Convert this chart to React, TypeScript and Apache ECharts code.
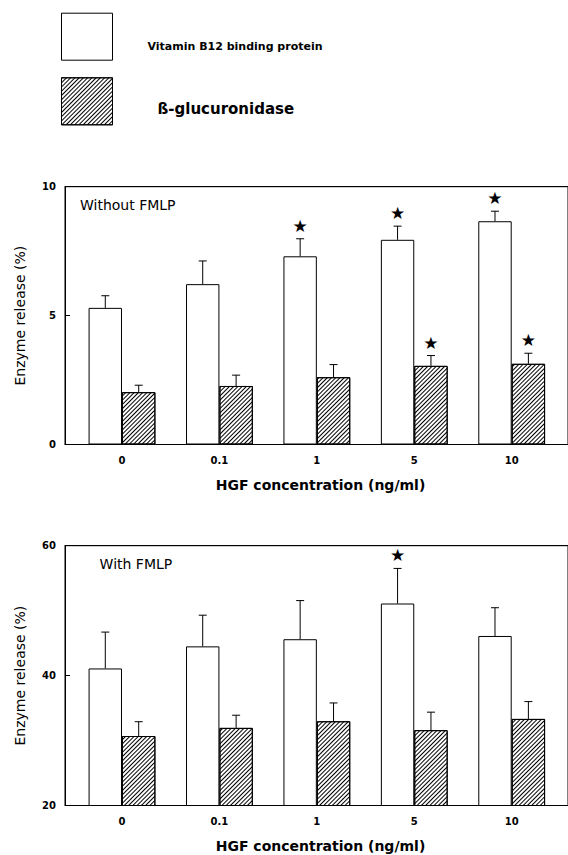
import React, { useEffect, useRef } from "react";
import * as echarts from "echarts";

// ---- data ----
const categories = ["0", "0.1", "1", "5", "10"];
const seriesNames = ["Vitamin B12 binding protein", "ß-glucuronidase"];

// Without FMLP
const withoutB12 = [5.3, 6.22, 7.3, 7.94, 8.66];
const withoutB12Err = [0.47, 0.9, 0.68, 0.53, 0.39];
const withoutB12Star = [0, 0, 1, 1, 1];
const withoutGluc = [2.03, 2.27, 2.61, 3.05, 3.13];
const withoutGlucErr = [0.27, 0.42, 0.49, 0.4, 0.41];
const withoutGlucStar = [0, 0, 0, 1, 1];

// With FMLP
const withB12 = [41.1, 44.5, 45.6, 51.1, 46.1];
const withB12Err = [5.6, 4.8, 5.95, 5.4, 4.35];
const withB12Star = [0, 0, 0, 1, 0];
const withGluc = [30.7, 31.95, 32.97, 31.6, 33.33];
const withGlucErr = [2.2, 1.95, 2.82, 2.77, 2.67];
const withGlucStar = [0, 0, 0, 0, 0];

const topTicks = [0, 5, 10];
const bottomTicks = [20, 40, 60];

// ---- style constants ----
const FONT = "DejaVu Sans";
const BAR_W = 33.4;
const X_MIN = -0.585;
const X_MAX = 4.578;

const hatch = {
  symbol: "rect",
  symbolSize: 1,
  color: "#000",
  dashArrayX: [1, 0],
  dashArrayY: [1, 1.1],
  rotation: -Math.PI / 4,
};

function barSeries(name: string, xi: number, yi: number, values: number[], hatched: boolean) {
  return {
    type: "bar",
    name,
    xAxisIndex: xi,
    yAxisIndex: yi,
    data: values.map((v, i) => [i, v]),
    barWidth: BAR_W,
    barGap: "0%",
    clip: true,
    silent: true,
    itemStyle: hatched
      ? { color: "#fff", borderColor: "#000", borderWidth: 1, decal: hatch }
      : { color: "#fff", borderColor: "#000", borderWidth: 1 },
  };
}

function errSeries(xi: number, yi: number, means: number[], errs: number[], stars: number[], side: number) {
  return {
    type: "custom",
    xAxisIndex: xi,
    yAxisIndex: yi,
    silent: true,
    clip: false,
    z: 5,
    encode: { x: 0, y: 1 },
    data: means.map((m, i) => [i, m, errs[i], stars[i]]),
    renderItem: (params: any, api: any) => {
      const x = api.value(0);
      const m = api.value(1);
      const e = api.value(2);
      const s = api.value(3);
      const p0 = api.coord([x, m]);
      const p1 = api.coord([x, m + e]);
      const cx = p0[0] + (side * BAR_W) / 2;
      const children: any[] = [
        { type: "line", shape: { x1: cx, y1: p0[1], x2: cx, y2: p1[1] }, style: { stroke: "#000", lineWidth: 1 } },
        { type: "line", shape: { x1: cx - 4, y1: p1[1], x2: cx + 4, y2: p1[1] }, style: { stroke: "#000", lineWidth: 1 } },
      ];
      if (s) {
        children.push({
          type: "text",
          x: cx,
          y: p1[1] - 13,
          style: {
            text: "★",
            fontSize: 17,
            fontFamily: FONT,
            fill: "#000",
            align: "center",
            verticalAlign: "middle",
          },
        });
      }
      return { type: "group", children };
    },
  };
}

function xAxisBottom(gridIndex: number) {
  return {
    type: "value",
    gridIndex,
    min: X_MIN,
    max: X_MAX,
    position: "bottom",
    splitLine: { show: false },
    axisTick: { show: false },
    axisLine: { show: true, onZero: false, lineStyle: { color: "#000", width: 1 } },
    axisLabel: {
      customValues: categories.map((_, i) => i),
      formatter: (v: number) => categories[Math.round(v)] ?? "",
      margin: 11,
      fontSize: 10,
      fontWeight: "bold",
      fontFamily: FONT,
      color: "#000",
    },
    name: "HGF concentration (ng/ml)",
    nameLocation: "middle",
    nameGap: 33,
    nameTextStyle: { fontSize: 14, fontWeight: "bold", fontFamily: FONT, color: "#000", padding: [0, 0, 0, 8] },
  };
}

function xAxisTop(gridIndex: number) {
  return {
    type: "value",
    gridIndex,
    min: X_MIN,
    max: X_MAX,
    position: "top",
    splitLine: { show: false },
    axisTick: { show: false },
    axisLabel: { show: false },
    axisLine: { show: true, onZero: false, lineStyle: { color: "#000", width: 1 } },
  };
}

function yAxis(gridIndex: number, ticks: number[]) {
  return {
    type: "value",
    gridIndex,
    min: ticks[0],
    max: ticks[ticks.length - 1],
    interval: ticks[1] - ticks[0],
    position: "left",
    offset: 0,
    splitLine: { show: false },
    axisLine: { show: true, onZero: false, lineStyle: { color: "#000", width: 1 } },
    axisTick: { show: true, inside: true, length: 5, lineStyle: { color: "#000" } },
    axisLabel: { margin: 9, fontSize: 10, fontWeight: "bold", fontFamily: FONT, color: "#000" },
    name: "Enzyme release (%)",
    nameLocation: "middle",
    nameGap: 38,
    nameTextStyle: { fontSize: 14, fontFamily: FONT, color: "#000" },
  };
}

export default function App() {
  const ref = useRef<HTMLDivElement>(null);
  useEffect(() => {
    if (!ref.current) return;
    const chart = echarts.init(ref.current, null, { renderer: "svg" });
    chart.setOption({
      animation: false,
      backgroundColor: "#fff",
      legend: [
        {
          left: 61,
          top: 12.7,
          padding: 0,
          itemWidth: 51,
          itemHeight: 47,
          icon: "rect",
          selectedMode: false,
          data: [seriesNames[0]],
          formatter: (n: string) => "\n" + n,
          itemStyle: { borderColor: "#000", borderWidth: 1 },
          textStyle: {
            fontSize: 11,
            lineHeight: 19,
            fontWeight: "bold",
            fontFamily: FONT,
            color: "#000",
            padding: [0, 0, 0, 30],
          },
        },
        {
          left: 61,
          top: 77.3,
          padding: 0,
          itemWidth: 51,
          itemHeight: 47,
          icon: "rect",
          selectedMode: false,
          data: [seriesNames[1]],
          formatter: (n: string) => "\n" + n,
          itemStyle: { borderColor: "#000", borderWidth: 1 },
          textStyle: {
            fontSize: 15,
            lineHeight: 15,
            fontWeight: "bold",
            fontFamily: FONT,
            color: "#000",
            padding: [0, 0, 0, 40],
          },
        },
      ],
      grid: [
        { left: 65, right: -2, top: 186.7, height: 257.8, show: true, borderColor: "#000", borderWidth: 1, backgroundColor: "transparent" },
        { left: 65, right: -2, top: 545.7, height: 259.8, show: true, borderColor: "#000", borderWidth: 1, backgroundColor: "transparent" },
      ],
      xAxis: [xAxisBottom(0), xAxisTop(0), xAxisBottom(1), xAxisTop(1)],
      yAxis: [yAxis(0, topTicks), yAxis(1, bottomTicks)],
      graphic: [
        { type: "text", left: 80, top: 197.7, style: { text: "Without FMLP", fontSize: 14, fontFamily: FONT, fill: "#000" } },
        { type: "text", left: 99.6, top: 557, style: { text: "With FMLP", fontSize: 14, fontFamily: FONT, fill: "#000" } },
      ],
      series: [
        barSeries(seriesNames[0], 0, 0, withoutB12, false),
        barSeries(seriesNames[1], 0, 0, withoutGluc, true),
        errSeries(0, 0, withoutB12, withoutB12Err, withoutB12Star, -1),
        errSeries(0, 0, withoutGluc, withoutGlucErr, withoutGlucStar, 1),
        barSeries(seriesNames[0], 2, 1, withB12, false),
        barSeries(seriesNames[1], 2, 1, withGluc, true),
        errSeries(2, 1, withB12, withB12Err, withB12Star, -1),
        errSeries(2, 1, withGluc, withGlucErr, withGlucStar, 1),
      ],
    });
    return () => chart.dispose();
  }, []);
  return (
    <div
      ref={ref}
      style={{ position: "fixed", left: 0, top: 0, width: 568, height: 855, background: "#fff" }}
    />
  );
}
